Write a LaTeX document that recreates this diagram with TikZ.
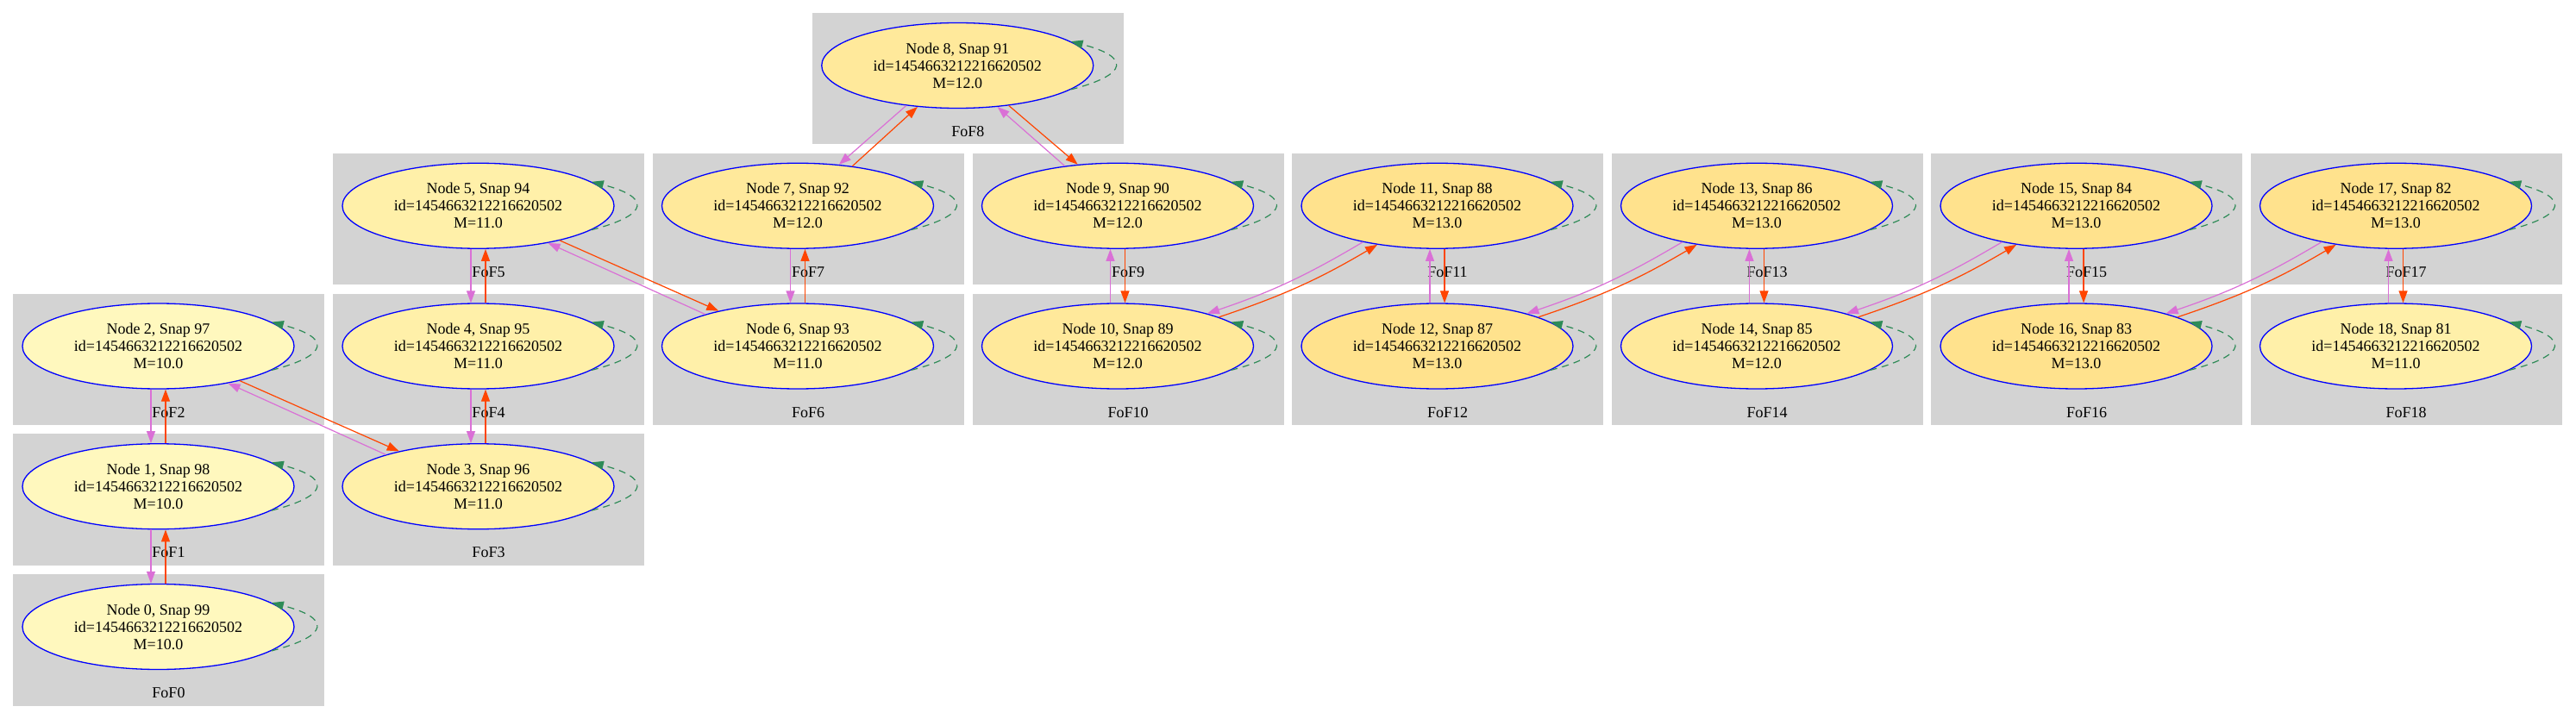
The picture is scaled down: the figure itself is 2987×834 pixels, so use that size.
\documentclass[tikz,border=0pt]{standalone}
\usepackage{fontspec}
\setmainfont{Liberation Serif}
\usetikzlibrary{arrows.meta,shapes.geometric}
\definecolor{orchidc}{HTML}{DA70D6}
\definecolor{orangeredc}{HTML}{FF4500}
\definecolor{seagreenc}{HTML}{2E8B57}
\definecolor{clgray}{HTML}{D3D3D3}
\definecolor{mten}{HTML}{FFF8BE}
\definecolor{meleven}{HTML}{FFF0A9}
\definecolor{mtwelve}{HTML}{FFE99B}
\definecolor{mthirteen}{HTML}{FFE28D}
\tikzset{
  halo/.style={ellipse, draw=blue, line width=0.65pt, minimum width=157.5pt,
    minimum height=49.5pt, inner sep=0pt, align=center,
    font=\fontsize{9}{10}\selectfont},
  foflabel/.style={anchor=base, inner sep=0pt, font=\fontsize{9}{10}\selectfont},
  clusterbg/.style={fill=clgray},
  tipA/.style={-{Triangle[length=7pt,width=5pt]}},
  descE/.style={draw=orchidc, line width=0.6pt, tipA},
  ascE/.style={draw=orangeredc, line width=0.6pt, tipA},
  loopE/.style={draw=seagreenc, line width=0.6pt, dash pattern=on 4pt off 3pt, tipA}
}
\newcommand\fofcl[6]{%
  \begin{scope}[shift={(#2,#3)}]
    \fill[clusterbg] (0,0) rectangle (361,152.5);
    \node[foflabel] (l#1) at (180.5,143.5) {FoF#1};
    \node[halo, fill=#6] (n#1) at (168.5,61) {Node #1, Snap #4\\id=1454663212216620502\\M=#5};
  \end{scope}}
\newcommand\selfloop[1]{%
  \draw[loopE] (#1.-12) .. controls +(68.5,-17.7) and +(68.5,17.7) .. (#1.12);}
\begin{document}
\begin{tikzpicture}[x=0.5pt,y=-0.5pt]
\useasboundingbox[fill=white] (0,0) rectangle (2987,834);
\fofcl{0}{15}{666}{99}{10.0}{mten}
\fofcl{1}{15}{503.25}{98}{10.0}{mten}
\fofcl{2}{15}{340.5}{97}{10.0}{mten}
\fofcl{3}{386}{503.25}{96}{11.0}{meleven}
\fofcl{4}{386}{340.5}{95}{11.0}{meleven}
\fofcl{5}{386}{177.75}{94}{11.0}{meleven}
\fofcl{6}{756.5}{340.5}{93}{11.0}{meleven}
\fofcl{7}{756.5}{177.75}{92}{12.0}{mtwelve}
\fofcl{8}{941.75}{15}{91}{12.0}{mtwelve}
\fofcl{9}{1127.5}{177.75}{90}{12.0}{mtwelve}
\fofcl{10}{1127.5}{340.5}{89}{12.0}{mtwelve}
\fofcl{11}{1498}{177.75}{88}{13.0}{mthirteen}
\fofcl{12}{1498}{340.5}{87}{13.0}{mthirteen}
\fofcl{13}{1868.5}{177.75}{86}{13.0}{mthirteen}
\fofcl{14}{1868.5}{340.5}{85}{12.0}{mtwelve}
\fofcl{15}{2239}{177.75}{84}{13.0}{mthirteen}
\fofcl{16}{2239}{340.5}{83}{13.0}{mthirteen}
\fofcl{17}{2609.5}{177.75}{82}{13.0}{mthirteen}
\fofcl{18}{2609.5}{340.5}{81}{11.0}{meleven}
% vertical pairs, upper node listed first
\foreach \u/\l in {1/0,2/1,4/3,5/4,7/6}{
  \draw[descE] ([xshift=-4.25pt]n\u.south) -- ([xshift=-4.25pt]n\l.north);
  \draw[ascE] ([xshift=4.25pt]n\l.north) -- ([xshift=4.25pt]n\u.south);
}
\foreach \u/\l in {9/10,11/12,13/14,15/16,17/18}{
  \draw[descE] ([xshift=-4.25pt]n\l.north) -- ([xshift=-4.25pt]n\u.south);
  \draw[ascE] ([xshift=4.25pt]n\u.south) -- ([xshift=4.25pt]n\l.north);
}
% diagonal pairs
\foreach \a/\b in {2/3,5/6}{
  \draw[ascE] (n\a.-23) -- (n\b.156);
  \draw[descE] (n\b.161) -- (n\a.-28);
}
\draw[ascE] (n7.36.7) -- (n8.226.7);
\draw[descE] (n8.218) -- (n7.45.6);
\draw[ascE] (n8.-38) -- (n9.134.4);
\draw[descE] (n9.143.3) -- (n8.-46.7);
\foreach \a/\b in {10/11,12/13,14/15,16/17}{
  \draw[ascE] (n\a.16.7) to[bend right=6] (n\b.213.6);
  \draw[descE] (n\b.206.4) to[bend left=6] (n\a.20.3);
}
% self loops
\foreach \k in {0,...,18}{\selfloop{n\k}}
\end{tikzpicture}
\end{document}
